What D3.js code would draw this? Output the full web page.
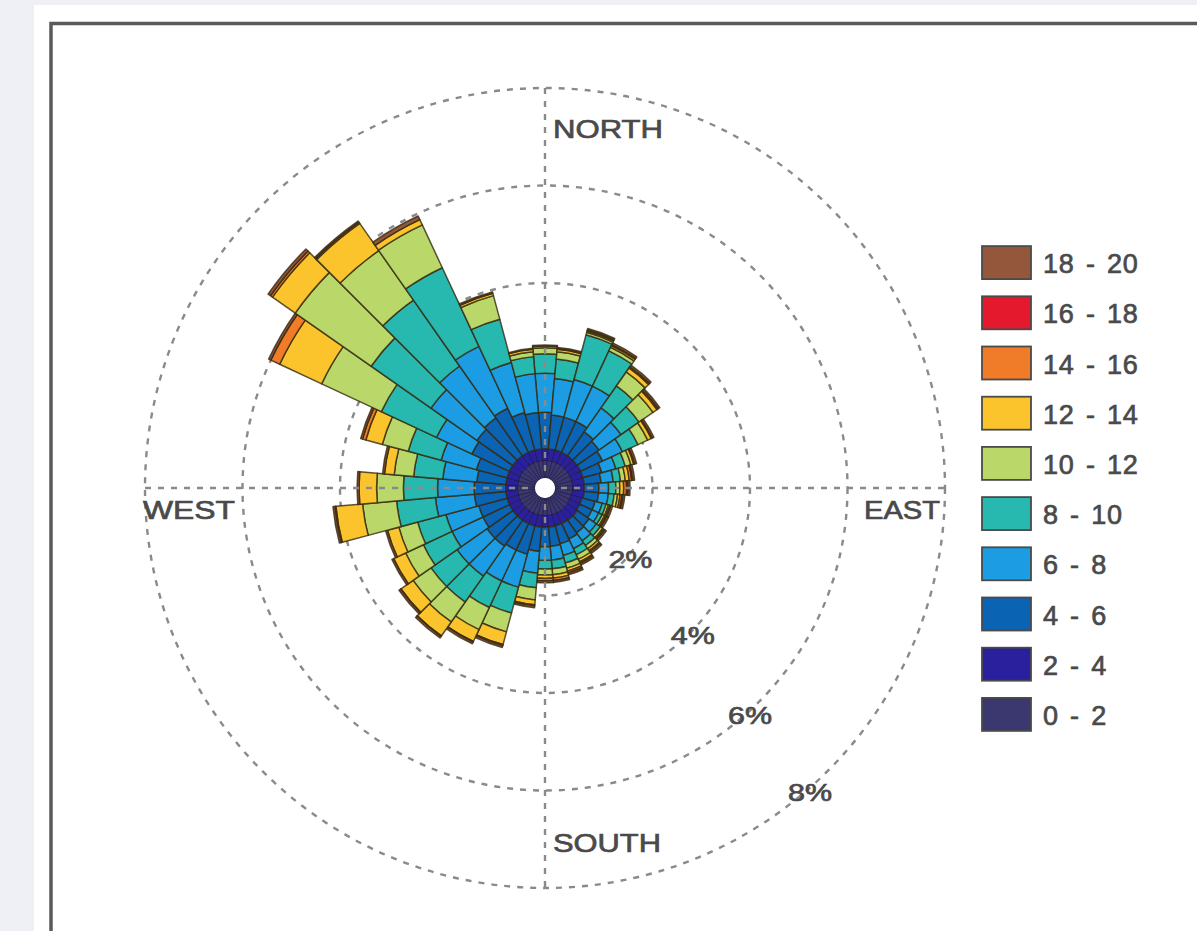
<!DOCTYPE html>
<html>
<head>
<meta charset="utf-8">
<script src="https://cdn.jsdelivr.net/npm/d3@7"></script>
<style>
html,body{margin:0;padding:0;background:#eef0f5;}
svg{display:block;}
</style>
</head>
<body>
<svg id="chart" width="1197" height="931"></svg>
<script>
// Direction bins (compass degrees, bin centres)
const directions = d3.range(0, 360, 10);
// Frequency (%) per direction for each wind speed bin
const speedBins = ["0 - 2","2 - 4","4 - 6","6 - 8","8 - 10","10 - 12","12 - 14","14 - 16","16 - 18","18 - 20"];
const s0_2   = [0.36,0.36,0.36,0.36,0.36,0.36,0.36,0.36,0.36,0.36,0.36,0.35,0.35,0.36,0.36,0.36,0.36,0.36,0.36,0.36,0.36,0.36,0.36,0.36,0.36,0.36,0.36,0.36,0.36,0.36,0.36,0.36,0.36,0.36,0.36,0.36];
const s2_4   = [0.24,0.24,0.24,0.24,0.24,0.24,0.24,0.24,0.24,0.24,0.24,0.23,0.23,0.24,0.24,0.24,0.24,0.24,0.24,0.24,0.24,0.24,0.24,0.24,0.24,0.24,0.24,0.24,0.24,0.24,0.24,0.24,0.24,0.24,0.24,0.24];
const s4_6   = [0.75,0.7,0.7,0.7,0.6,0.55,0.5,0.4,0.35,0.3,0.3,0.28,0.28,0.3,0.32,0.35,0.38,0.4,0.4,0.5,0.6,0.6,0.65,0.65,0.6,0.6,0.65,0.65,0.6,0.65,0.85,0.9,0.95,1.0,0.8,0.75];
const s6_8   = [0.8,0.75,0.8,0.8,0.6,0.55,0.45,0.3,0.25,0.2,0.2,0.15,0.15,0.18,0.2,0.22,0.25,0.28,0.28,0.45,0.7,0.7,0.75,0.75,0.7,0.7,0.8,0.75,0.7,0.75,0.8,1.15,1.3,1.4,1.06,0.8];
const s8_10  = [0.4,0.4,0.95,0.8,0.55,0.45,0.35,0.2,0.15,0.15,0.12,0.08,0.08,0.1,0.12,0.14,0.16,0.18,0.18,0.3,0.55,0.6,0.65,0.65,0.65,0.6,0.8,0.7,0.6,0.7,1.25,1.5,1.65,1.78,0.92,0.35];
const s10_12 = [0.12,0.15,0.05,0.08,0.35,0.35,0.22,0.12,0.1,0.08,0.07,0.05,0.05,0.06,0.08,0.1,0.11,0.12,0.12,0.25,0.4,0.5,0.5,0.45,0.4,0.4,0.7,0.55,0.4,0.55,1.35,1.9,1.24,0.97,0.5,0.1];
const s12_14 = [0.04,0.05,0.03,0.04,0.1,0.1,0.08,0.06,0.08,0.08,0.05,0.03,0.03,0.03,0.05,0.06,0.06,0.07,0.07,0.1,0.27,0.27,0.35,0.3,0.27,0.24,0.55,0.36,0.2,0.35,0.95,0.57,0.68,0.12,0.05,0.05];
const s14_16 = [0,0.02,0.02,0.02,0.03,0.03,0.02,0.02,0.05,0.06,0.04,0.02,0.02,0.02,0.03,0.03,0.04,0.05,0.05,0.02,0.02,0.01,0.01,0.01,0,0,0.02,0,0,0.07,0.2,0.05,0.03,0,0,0];
const s16_18 = [0,0,0,0,0,0,0,0,0.02,0.03,0.02,0,0,0,0,0,0,0,0,0,0,0,0,0,0,0,0,0,0,0,0,0,0,0,0,0];
const s18_20 = [0.02,0.02,0.03,0.04,0.04,0.04,0.04,0.04,0.04,0.04,0.04,0.04,0.04,0.04,0.04,0.04,0.04,0.04,0.04,0.04,0.04,0.04,0.04,0.04,0.04,0.04,0.04,0.04,0.04,0.04,0.05,0.06,0.03,0.08,0.03,0.02];
const seriesValues = [s0_2,s2_4,s4_6,s6_8,s8_10,s10_12,s12_14,s14_16,s16_18,s18_20];
const binColors = ["#3b3870","#2a1f9c","#0b63b3","#1c9de3","#27b8b0","#bad769","#fcc42c","#f07c2a","#e5192d","#94573c"];
const ringTicks = [2,4,6,8];
const tickLabels = ["2%","4%","6%","8%"];
const tickLabelAngles = [130,135,138,139];
const compassLabels = ["NORTH","EAST","SOUTH","WEST"];

const svg = d3.select("#chart");
// panel + frame
svg.append("rect").attr("x",34).attr("y",5).attr("width",1200).attr("height",1000).attr("fill","#ffffff");
svg.append("rect").attr("x",51).attr("y",23.5).attr("width",1200).attr("height",1000)
   .attr("fill","none").attr("stroke","#5a5a5a").attr("stroke-width",3.5);

const cx = 545, cy = 488;
const r = d3.scaleLinear().domain([0,8]).range([10,400]);
const a = d3.scaleLinear().domain([0,360]).range([0,2*Math.PI]);
const g = svg.append("g").attr("transform",`translate(${cx},${cy})`);

// stacked data
const segs = [];
directions.forEach((d,i)=>{
  let cum = 0;
  seriesValues.forEach((s,k)=>{
    const v = s[i];
    if (v > 0) segs.push({dir:d, k, y0:cum, y1:cum+v});
    cum += v;
  });
});
const arc = d3.arc()
  .innerRadius(d=>r(d.y0)).outerRadius(d=>r(d.y1))
  .startAngle(d=>a(d.dir-5)).endAngle(d=>a(d.dir+5));

// grid circles
const gridStyle = sel => sel.attr("fill","none").attr("stroke","#8a8a8a")
   .attr("stroke-width",2.4).attr("stroke-dasharray","6,7");
g.selectAll("circle.grid").data(ringTicks).join("circle").attr("class","grid")
  .attr("r",d=>r(d)).call(gridStyle);

// bars
g.selectAll("path.seg").data(segs).join("path").attr("class","seg")
  .attr("d",arc).attr("fill",d=>binColors[d.k])
  .attr("stroke",d=>d.k<2 ? "#1a1438" : "#33290f")
  .attr("stroke-width",d=>d.k<2 ? 0.8 : 1.5).attr("stroke-opacity",0.8)
  .attr("stroke-linejoin","round");

// axes (drawn over)
const R = r(8);
g.append("line").attr("x1",-R).attr("x2",R).attr("y1",0).attr("y2",0).call(gridStyle);
g.append("line").attr("x1",0).attr("x2",0).attr("y1",-R).attr("y2",R).call(gridStyle);
g.append("circle").attr("r",10).attr("fill","#fff");

const textStyle = sel => sel.attr("font-family","Liberation Sans, Arial, sans-serif")
  .attr("fill","#4a4a4a").attr("stroke","#4a4a4a").attr("stroke-width",0.7);

// ring labels
g.selectAll("text.tick").data(ringTicks).join("text").attr("class","tick")
  .attr("x",(d,i)=>Math.sin(a(tickLabelAngles[i]))*(r(d)+4))
  .attr("y",(d,i)=>-Math.cos(a(tickLabelAngles[i]))*(r(d)+4))
  .attr("text-anchor","middle").attr("dominant-baseline","central")
  .attr("font-size",24).attr("textLength",44).attr("lengthAdjust","spacingAndGlyphs")
  .call(textStyle)
  .text((d,i)=>tickLabels[i]);

// compass labels
const compassPos = [
  {x:8, y:-r(8)+41, anchor:"start", w:110},
  {x:r(8)-5, y:22, anchor:"end", w:76},
  {x:8, y:r(8)-45, anchor:"start", w:108},
  {x:-r(8)-2, y:22, anchor:"start", w:92}
];
g.selectAll("text.comp").data(compassLabels).join("text").attr("class","comp")
  .attr("x",(d,i)=>compassPos[i].x).attr("y",(d,i)=>compassPos[i].y)
  .attr("text-anchor",(d,i)=>compassPos[i].anchor).attr("dominant-baseline","central")
  .attr("font-size",26)
  .attr("textLength",(d,i)=>compassPos[i].w).attr("lengthAdjust","spacingAndGlyphs")
  .call(textStyle).text(d=>d);

// legend
const legendOrder = d3.range(speedBins.length).reverse();
const ly = d3.scaleBand().domain(legendOrder).range([237,739]);
const lg = svg.append("g");
const item = lg.selectAll("g").data(legendOrder).join("g")
  .attr("transform",d=>`translate(982,${ly(d)+ly.bandwidth()/2})`);
item.append("rect").attr("x",0).attr("y",-16).attr("width",49).attr("height",33)
  .attr("fill",d=>binColors[d]).attr("stroke","#4a4a4a").attr("stroke-width",1.8);
item.append("text").attr("x",61).attr("y",2).attr("dominant-baseline","central")
  .attr("font-size",27).attr("letter-spacing",0.8).attr("word-spacing",3)
  .call(textStyle).text(d=>speedBins[d]);
</script>
</body>
</html>
